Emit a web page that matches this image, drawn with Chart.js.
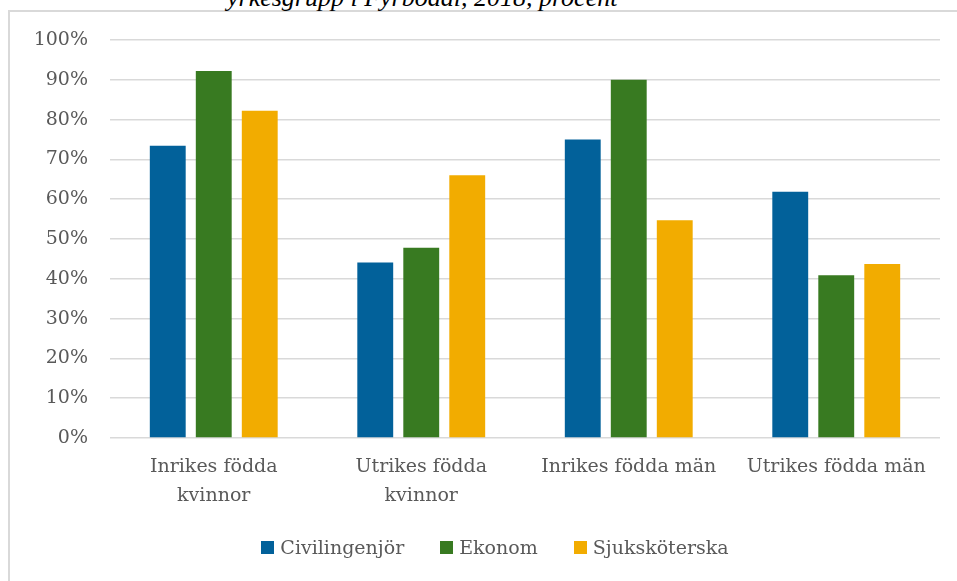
<!DOCTYPE html>
<html lang="sv">
<head>
<meta charset="utf-8">
<script src="https://cdn.jsdelivr.net/npm/chart.js@4.4.1/dist/chart.umd.min.js"></script>
<style>
    html, body { margin: 0; padding: 0; background: #fff; overflow: hidden; }
    body { width: 957px; height: 581px; position: relative; }
    .frame {
        position: absolute; left: 8px; top: 10px; width: 1000px; height: 700px;
        border: 2px solid #d9d9d9; box-sizing: border-box;
    }
    .title {
        position: absolute; left: 227px; top: -15px; margin: 0;
        font-family: "Liberation Serif", serif; font-style: italic; font-size: 26px; line-height: 26px;
        color: #000; white-space: nowrap;
    }
    #chart { position: absolute; left: 0; top: 0; }
    .legend {
        position: absolute; left: 0; width: 990px; top: 536px;
        display: flex; justify-content: center; gap: 36px;
        font-family: "DejaVu Serif", serif; font-size: 19px; color: #595959;
    }
    .legend span { display: flex; align-items: center; }
    .legend i { display: inline-block; width: 13px; height: 13px; margin-right: 6px; }
</style>
</head>
<body>
<div class="frame"></div>
<p class="title">yrkesgrupp i Fyrbodal, 2018, procent</p>
<canvas id="chart" width="957" height="581" style="width:957px;height:581px"></canvas>
<div class="legend" id="legend"></div>

<script>
// grupper och andelar (procent)
const categories = [
    ["Inrikes födda", "kvinnor"],
    ["Utrikes födda", "kvinnor"],
    "Inrikes födda män",
    "Utrikes födda män"
];

const civilingenjor = [73.4, 44.1, 75.0, 61.9];
const ekonom = [92.2, 47.8, 90.0, 40.9];
const sjukskoterska = [82.2, 66.0, 54.7, 43.7];

const yTicks = [0, 10, 20, 30, 40, 50, 60, 70, 80, 90, 100];

const series = [
    { label: "Civilingenjör", data: civilingenjor, color: "#02619a" },
    { label: "Ekonom", data: ekonom, color: "#387a21" },
    { label: "Sjuksköterska", data: sjukskoterska, color: "#f2ac00" }
];

const tickFont = { family: "DejaVu Serif", size: 19, lineHeight: 1.5 };

new Chart(document.getElementById("chart"), {
    type: "bar",
    data: {
        labels: categories,
        datasets: series.map(s => ({
            label: s.label,
            data: s.data,
            backgroundColor: s.color,
            borderWidth: 0,
            categoryPercentage: 0.665,
            barPercentage: 0.78
        }))
    },
    options: {
        responsive: false,
        animation: false,
        layout: { padding: { left: 10, right: 17, top: 40, bottom: 0 } },
        plugins: {
            legend: { display: false },
            tooltip: { enabled: false }
        },
        scales: {
            x: {
                grid: { display: false, drawTicks: false },
                border: { display: false },
                ticks: { color: "#595959", font: tickFont, padding: 15, maxRotation: 0, autoSkip: false },
                afterFit: s => { s.height = 143; }
            },
            y: {
                min: 0,
                max: 100,
                afterBuildTicks: s => { s.ticks = yTicks.map(v => ({ value: v })); },
                grid: { color: "#d9d9d9", lineWidth: 1.5, drawTicks: false },
                border: { display: false },
                ticks: {
                    color: "#595959",
                    font: tickFont,
                    padding: 22,
                    callback: v => v + "%"
                },
                afterFit: s => { s.width = 100; }
            }
        }
    }
});

// förklaring som vanlig text under diagrammet
document.getElementById("legend").innerHTML = series
    .map(s => `<span><i style="background:${s.color}"></i>${s.label}</span>`)
    .join("");
</script>
</body>
</html>
